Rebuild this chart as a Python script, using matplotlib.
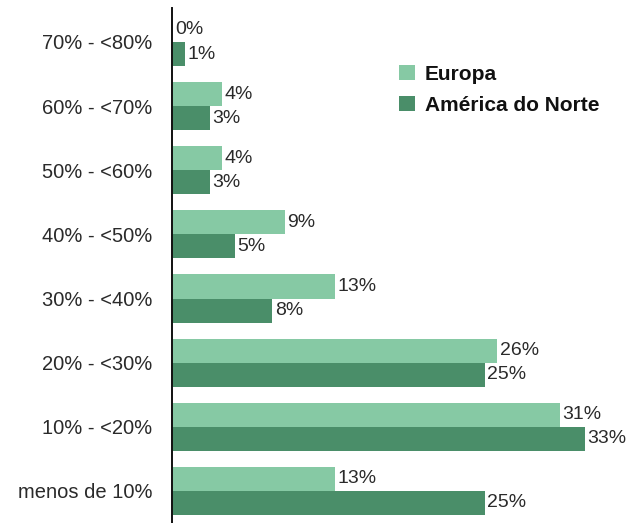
import matplotlib
matplotlib.use("Agg")
import matplotlib.pyplot as plt
from matplotlib.patches import Patch
import numpy as np

categories = ["menos de 10%", "10% - <20%", "20% - <30%", "30% - <40%",
              "40% - <50%", "50% - <60%", "60% - <70%", "70% - <80%"]
europa = [13, 31, 26, 13, 9, 4, 4, 0]
america_norte = [25, 33, 25, 8, 5, 3, 3, 1]
series_names = ["Europa", "América do Norte"]
colors = ["#86C9A4", "#4A8E69"]

plt.rcParams['font.family'] = ['Liberation Sans', 'DejaVu Sans']

W, H = 632, 523
fig = plt.figure(figsize=(W / 100, H / 100), dpi=100)
ax = fig.add_axes([172 / W, 0, (W - 172) / W, 515 / H])

y = np.arange(len(categories))
bh = 0.375
b1 = ax.barh(y + bh / 2, europa, height=bh, color=colors[0], edgecolor='none')
b2 = ax.barh(y - bh / 2, america_norte, height=bh, color=colors[1], edgecolor='none')

txtc = "#2a2a2a"
for bars, vals in ((b1, europa), (b2, america_norte)):
    for rect, v in zip(bars, vals):
        ax.annotate(f"{v}%", (rect.get_width(), rect.get_y() + rect.get_height() / 2),
                    xytext=(2, 0), textcoords='offset points', va='center', ha='left',
                    fontsize=14, color=txtc)

ax.set_xlim(0, 36.8)
ax.set_ylim(-0.5, 7.53)
ax.set_yticks(y)
ax.set_yticklabels(categories, fontsize=14.5, color=txtc)
ax.tick_params(axis='y', length=0, pad=14)
ax.set_xticks([])
for s in ('top', 'right', 'bottom'):
    ax.spines[s].set_visible(False)
ax.spines['left'].set_linewidth(1.4)
ax.spines['left'].set_color('#111111')
ax.patch.set_alpha(0)

handles = [Patch(facecolor=c, edgecolor='none') for c in colors]
leg = fig.legend(handles, series_names, loc='upper left',
                 bbox_to_anchor=(399 / W, 1 - 65 / H), frameon=False,
                 handlelength=0.75, handleheight=0.75, handletextpad=0.5,
                 labelspacing=0.58, borderpad=0, borderaxespad=0,
                 prop={'weight': 'bold', 'size': 15})
for t in leg.get_texts():
    t.set_color('#111111')

fig.savefig("out.png", dpi=100)
